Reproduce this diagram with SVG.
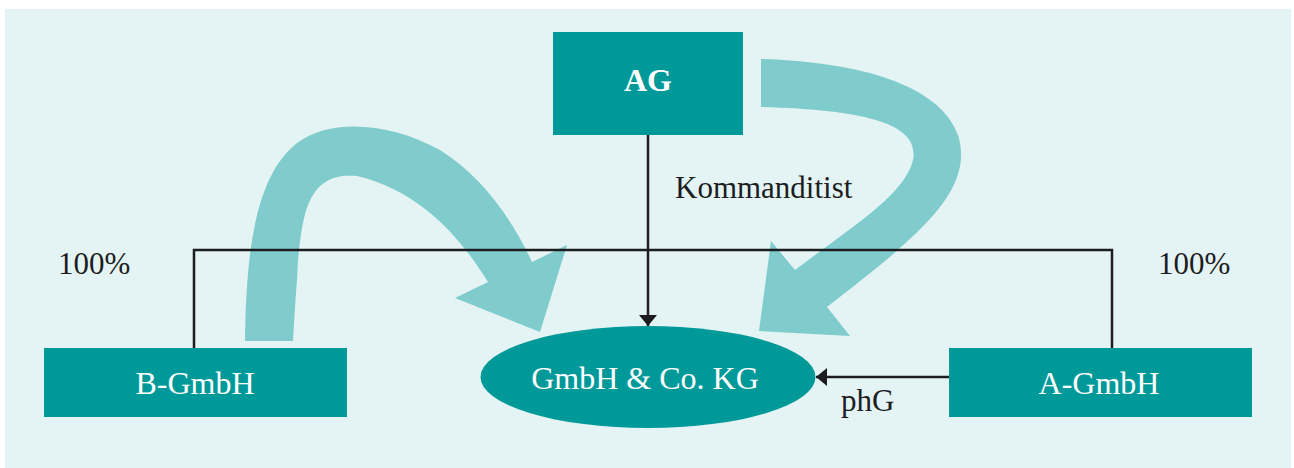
<svg xmlns="http://www.w3.org/2000/svg" width="1294" height="468" viewBox="0 0 1294 468">
  <defs>
    <style>
      .box { fill: #009999; }
      .flow { fill: #80cccc; }
      .line { fill: none; stroke: #1d1d1f; stroke-width: 2.5; }
      .lbl { font-family: "Liberation Serif", "Times New Roman", serif; fill: #1d1d1f; font-size: 31px; }
      .nodeText { font-family: "Liberation Serif", "Times New Roman", serif; fill: #ffffff; font-size: 32px; text-anchor: middle; }
    </style>
    <marker id="arr" viewBox="0 0 11 18" refX="11" refY="9" markerWidth="11" markerHeight="18" markerUnits="userSpaceOnUse" orient="auto">
      <path d="M0,0 L11,9 L0,18 Z" fill="#1d1d1f"/>
    </marker>
  </defs>

  <rect x="5" y="9" width="1286" height="459" fill="#e4f4f4"/>

  <g id="flows">
    <path class="flow" d="M245,341 C246,250 256,175 297,143 C330,118 390,122 440,150 C480,175 510,215 532,262 L567,245 L540,332 L455,298 L488,282 C465,245 425,192 357,176 C335,174 318,180 308,205 C302,220 298,250 297,280 C295,305 294,325 293,341 Z"/>
    <path class="flow" d="M761,59 C860,62 940,85 958,135 C975,190 920,235 827,307 L850,336 L759,331 L771,241 L795,270 C850,228 905,195 913,160 C920,125 870,110 761,107 Z"/>
  </g>

  <g id="connectors">
    <path class="line" d="M194,348 V250 H1112 V348"/>
    <line class="line" x1="648" y1="135" x2="648" y2="326" marker-end="url(#arr)"/>
    <line class="line" x1="949" y1="377" x2="816" y2="377" marker-end="url(#arr)"/>
  </g>

  <g id="labels">
    <text class="lbl" x="675" y="198" font-size="32">Kommanditist</text>
    <text class="lbl" x="58" y="274">100%</text>
    <text class="lbl" x="1158" y="274">100%</text>
    <text class="lbl" x="841" y="411">phG</text>
  </g>

  <g id="node-ag">
    <rect class="box" x="553" y="32" width="190" height="103"/>
    <text class="nodeText" x="648" y="91" font-weight="bold" font-size="37">AG</text>
  </g>

  <g id="node-bgmbh">
    <rect class="box" x="44" y="348" width="303" height="69"/>
    <text class="nodeText" x="195" y="394">B-GmbH</text>
  </g>

  <g id="node-agmbh">
    <rect class="box" x="949" y="348" width="303" height="69"/>
    <text class="nodeText" x="1099" y="394">A-GmbH</text>
  </g>

  <g id="node-kg">
    <ellipse class="box" cx="648" cy="377" rx="167.5" ry="51"/>
    <text class="nodeText" x="645" y="389" font-size="34">GmbH &amp; Co. KG</text>
  </g>
</svg>
